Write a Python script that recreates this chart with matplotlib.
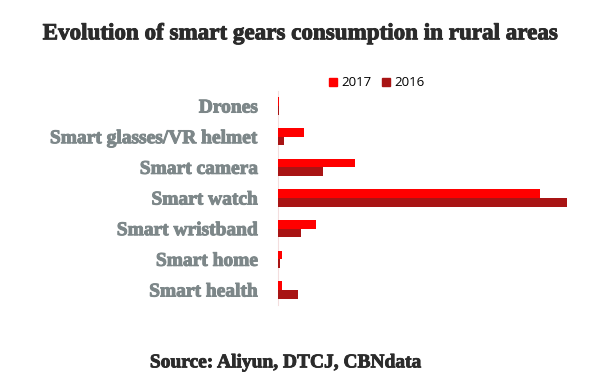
import numpy as np
import matplotlib.pyplot as plt
import matplotlib.patheffects as pe
from matplotlib.patches import Patch

# share of consumption (%)
categories = ["Drones", "Smart glasses/VR helmet", "Smart camera", "Smart watch",
              "Smart wristband", "Smart home", "Smart health"]
v2017 = [0.5, 6.8, 20.0, 67.6, 10.0, 1.1, 1.1]
v2016 = [0.5, 1.7, 11.7, 74.5, 6.1, 0.6, 5.2]

red17 = "#ff0000"
red16 = "#a81414"
grey = "#7d8789"
dark = "#2b2b2b"

fig = plt.figure(figsize=(6, 3.84), dpi=100)
ax = fig.add_axes([0.4625, 0.2049, 0.498, 0.5589])

y = np.arange(len(categories))
h = 0.28
ax.barh(y - h / 2, v2017, height=h, color=red17, zorder=3)
ax.barh(y + h / 2, v2016, height=h, color=red16, zorder=3)

ax.set_xlim(0, 77)
ax.set_ylim(6.5, -0.5)
ax.set_xticks([])
ax.set_yticks(y)
labels = ax.set_yticklabels(categories, family="Liberation Serif", fontweight="bold",
                            fontsize=14, color=grey)
for t in labels:
    t.set_path_effects([pe.withStroke(linewidth=0.7, foreground=grey)])
ax.tick_params(axis="y", length=0, pad=14)
for s in ["top", "right", "bottom"]:
    ax.spines[s].set_visible(False)
ax.spines["left"].set_color("#f3dede")
ax.spines["left"].set_linewidth(0.8)

title = fig.text(0.5, 0.912, "Evolution of smart gears consumption in rural areas",
                 ha="center", va="center", family="Liberation Serif", fontweight="bold",
                 fontsize=16.6, color=dark)
title.set_path_effects([pe.withStroke(linewidth=0.7, foreground=dark)])
src = fig.text(0.477, 0.055, "Source: Aliyun, DTCJ, CBNdata", ha="center", va="center",
               family="Liberation Serif", fontweight="bold", fontsize=14, color=dark)
src.set_path_effects([pe.withStroke(linewidth=0.6, foreground=dark)])

handles = [Patch(color=red17, label="2017"), Patch(color=red16, label="2016")]
fig.legend(handles=handles, loc="center", bbox_to_anchor=(0.628, 0.784), ncol=2,
           frameon=False, handlelength=0.6, handleheight=0.6,
           handletextpad=0.3, columnspacing=0.8,
           prop={"family": "Open Sans", "size": 9.5})

fig.savefig("out.png", dpi=100)
